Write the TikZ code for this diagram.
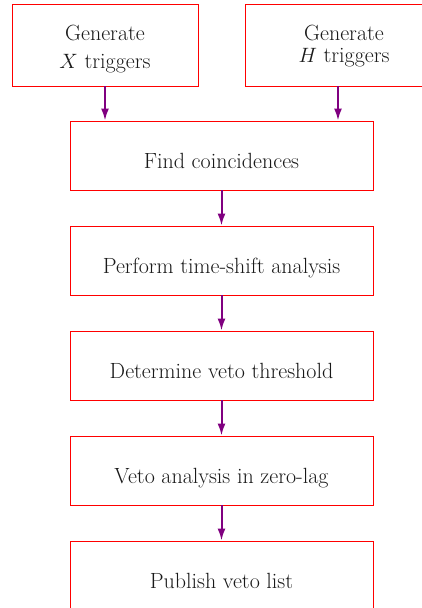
\documentclass[tikz,border=0pt]{standalone}
\usetikzlibrary{arrows.meta,calc}
\definecolor{arrcol}{RGB}{128,0,128}
\definecolor{txtcol}{RGB}{25,25,25}
\begin{document}
\begin{tikzpicture}[x=1pt,y=-1pt,
  box/.style={draw=red, line width=0.9pt, minimum width=303pt, minimum height=69pt, text=txtcol, font=\fontsize{22}{26}\selectfont, inner sep=0pt, text height=25.6pt, text depth=0pt},
  tbox/.style={draw=red, line width=0.9pt, minimum height=82pt, inner sep=0pt},
  txt/.style={text=txtcol, font=\fontsize{22}{26}\selectfont, inner sep=0pt, anchor=base},
  arr/.style={draw=arrcol, line width=2pt, -{Latex[length=12pt,width=8pt]}}]
\useasboundingbox (0,0) rectangle (422,608);
\node[tbox, minimum width=186pt] (X) at (105,45) {};
\node[tbox, minimum width=198pt] (H) at (344,45) {};
\node[txt] (X1) at ($(X.center)+(0,-5)$) {Generate};
\node[txt] (X2) at ($(X.center)+(0,23)$) {$X$ triggers};
\node[txt] (H1) at ($(H.center)+(0,-5)$) {Generate};
\node[txt] (H2) at ($(H.center)+(0,17)$) {$H$ triggers};
\node[box] (find) at (221.5,155.5) {Find coincidences};
\node[box] (shift) at (221.5,260.5) {Perform time-shift analysis};
\node[box] (thr) at (221.5,365.5) {Determine veto threshold};
\node[box] (zero) at (221.5,470.5) {Veto analysis in zero-lag};
\node[box] (pub) at (221.5,575.5) {Publish veto list};
\coordinate (hs) at ($(H.south)+(-6,0)$);
\draw[arr] (X.south) -- (X.south |- find.north);
\draw[arr] (hs) -- (hs |- find.north);
\draw[arr] (find) -- (shift);
\draw[arr] (shift) -- (thr);
\draw[arr] (thr) -- (zero);
\draw[arr] (zero) -- (pub);
\end{tikzpicture}
\end{document}
